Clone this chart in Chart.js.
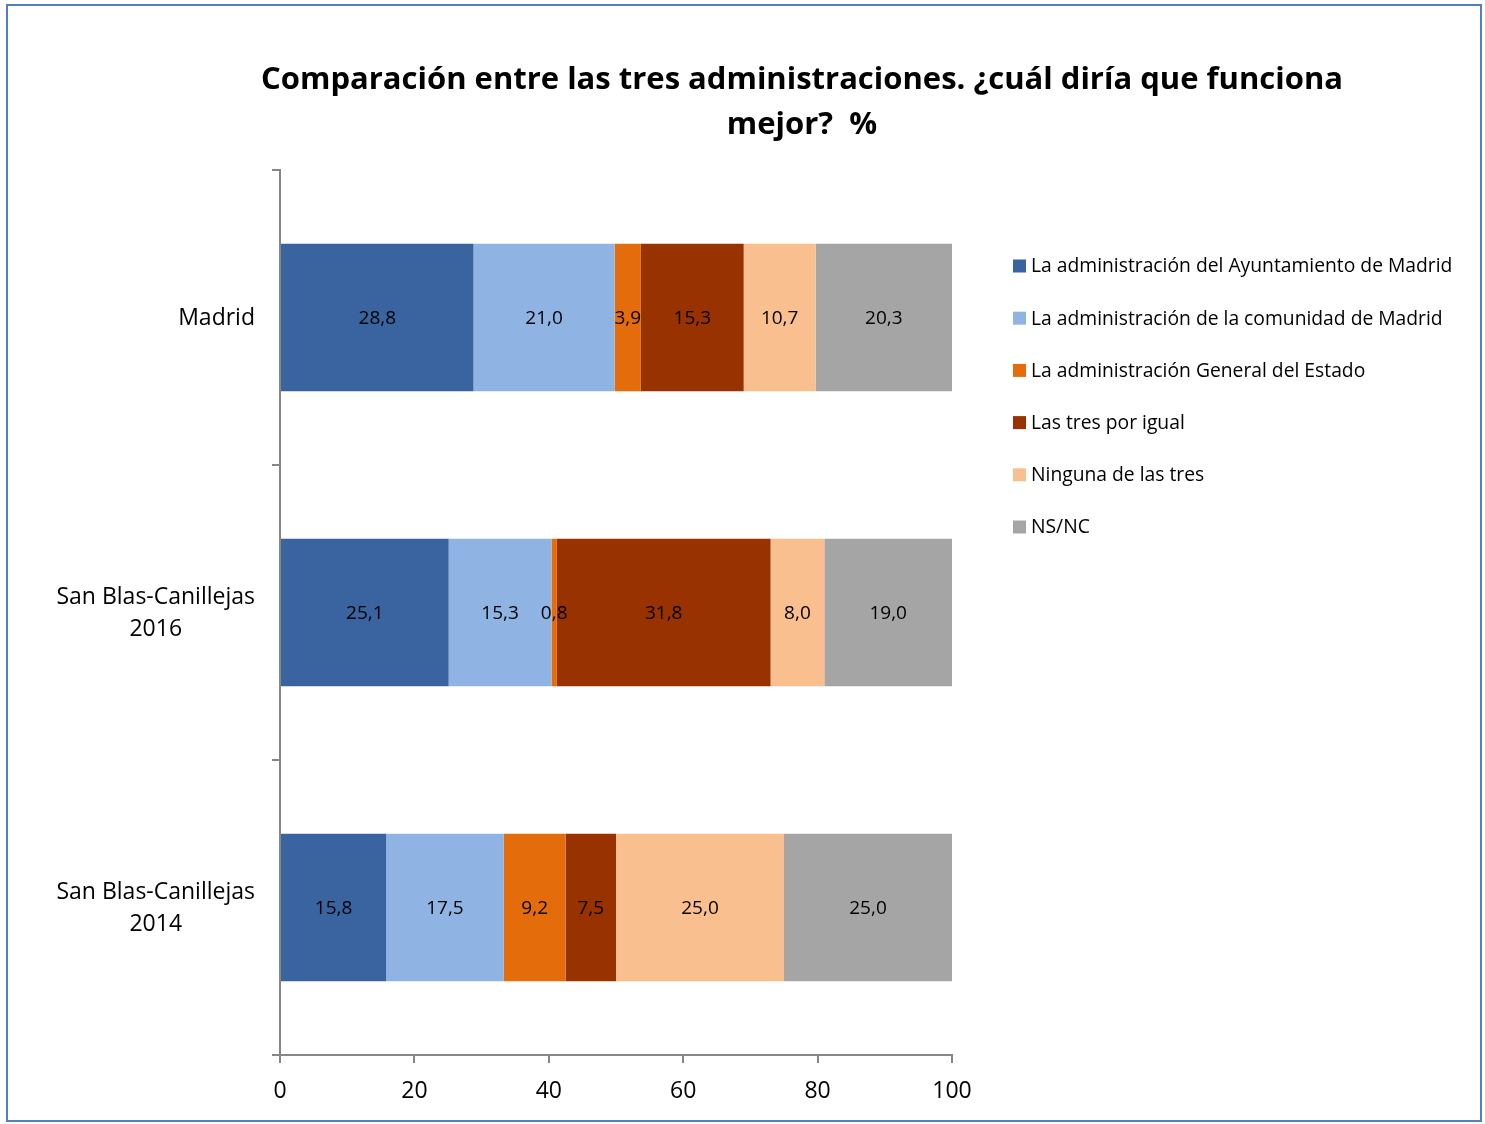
<!DOCTYPE html>
<html>
<head>
<meta charset="utf-8">
<script src="https://cdn.jsdelivr.net/npm/chart.js@4"></script>
<style>
html,body{margin:0;padding:0;background:#fff;}
#wrap{position:relative;width:1485px;height:1124px;}
#frame{position:absolute;left:6px;top:4px;width:1472px;height:1114px;border:2px solid #4f81bd;pointer-events:none;}
canvas{position:absolute;left:0;top:0;}
</style>
</head>
<body>
<div id="wrap">
<canvas id="c" width="1485" height="1124"></canvas>
<div id="frame"></div>
</div>
<script>
const titleLines = ["Comparación entre las tres administraciones. ¿cuál diría que funciona", "mejor?  %"];
const categories = [["Madrid"], ["San Blas-Canillejas", "2016"], ["San Blas-Canillejas", "2014"]];
const seriesNames = [
  "La administración del Ayuntamiento de Madrid",
  "La administración de la comunidad de Madrid",
  "La administración General del Estado",
  "Las tres por igual",
  "Ninguna de las tres",
  "NS/NC"
];
const seriesColors = ["#3a64a0", "#8fb4e3", "#e46c0a", "#983200", "#f9bf8f", "#a5a5a5"];
const ayuntamiento = [28.8, 25.1, 15.8];
const comunidad = [21.0, 15.3, 17.5];
const estado = [3.9, 0.8, 9.2];
const tresIgual = [15.3, 31.8, 7.5];
const ninguna = [10.7, 8.0, 25.0];
const nsnc = [20.3, 19.0, 25.0];
const xTicks = [0, 20, 40, 60, 80, 100];

const seriesValues = [ayuntamiento, comunidad, estado, tresIgual, ninguna, nsnc];
const FONT = "'Open Sans', sans-serif";

const datasets = seriesNames.map((n, i) => ({
  label: n,
  data: seriesValues[i],
  backgroundColor: seriesColors[i],
  borderWidth: 0,
  categoryPercentage: 1.0,
  barPercentage: 0.5
}));

const customDraw = {
  id: 'customDraw',
  afterDatasetsDraw(chart) {
    const ctx = chart.ctx;
    ctx.save();
    ctx.font = "19px " + FONT;
    ctx.fillStyle = "#000";
    ctx.textAlign = "center";
    ctx.textBaseline = "middle";
    chart.data.datasets.forEach((ds, di) => {
      const meta = chart.getDatasetMeta(di);
      meta.data.forEach((bar, i) => {
        const v = ds.data[i];
        const cx = (bar.x + bar.base) / 2;
        ctx.fillText(v.toFixed(1).replace('.', ','), cx, bar.y + 1);
      });
    });
    ctx.restore();
  },
  afterDraw(chart) {
    const ctx = chart.ctx;
    ctx.save();
    ctx.font = "bold 31px " + FONT;
    ctx.fillStyle = "#000";
    ctx.textAlign = "center";
    ctx.textBaseline = "middle";
    ctx.fillText(titleLines[0], 802, 80);
    ctx.fillText(titleLines[1], 802, 125);
    const ys = chart.scales.y;
    ctx.font = "23px " + FONT;
    categories.forEach((lines, i) => {
      const y = ys.getPixelForValue(i);
      let maxW = 0;
      lines.forEach(l => { maxW = Math.max(maxW, ctx.measureText(l).width); });
      const cx = 255 - maxW / 2;
      const lh = 32;
      const y0 = y - (lines.length - 1) * lh / 2;
      lines.forEach((l, k) => ctx.fillText(l, cx, y0 + k * lh + 1));
    });
    ctx.font = "19.3px " + FONT;
    ctx.textAlign = "left";
    seriesNames.forEach((n, i) => {
      const y = 266 + i * 52.2;
      ctx.fillStyle = seriesColors[i];
      ctx.fillRect(1013, y - 6.5, 13, 13);
      ctx.fillStyle = "#000";
      ctx.fillText(n, 1031, y + 1);
    });
    ctx.restore();
  }
};

new Chart(document.getElementById('c'), {
  type: 'bar',
  data: { labels: categories.map(c => c.join(' ')), datasets },
  options: {
    indexAxis: 'y',
    responsive: false,
    animation: false,
    layout: { padding: { top: 170, right: 533, left: 0, bottom: 0 } },
    plugins: { legend: { display: false }, title: { display: false }, tooltip: { enabled: false } },
    scales: {
      x: {
        stacked: true,
        min: 0, max: 100,
        afterBuildTicks(scale) { scale.ticks = xTicks.map(v => ({ value: v })); },
        afterFit(scale) { scale.height = 69; },
        grid: { drawOnChartArea: false, drawTicks: true, tickLength: 8, color: '#868686', lineWidth: 2 },
        border: { display: true, color: '#868686', width: 2 },
        ticks: { color: '#000', font: { size: 23, family: FONT }, padding: 15, maxRotation: 0 }
      },
      y: {
        stacked: true,
        afterFit(scale) { scale.width = 280; },
        grid: { drawOnChartArea: false, drawTicks: true, tickLength: 8, color: '#868686', lineWidth: 2, offset: true },
        border: { display: true, color: '#868686', width: 2 },
        ticks: { display: false }
      }
    }
  },
  plugins: [customDraw]
});
</script>
</body>
</html>
